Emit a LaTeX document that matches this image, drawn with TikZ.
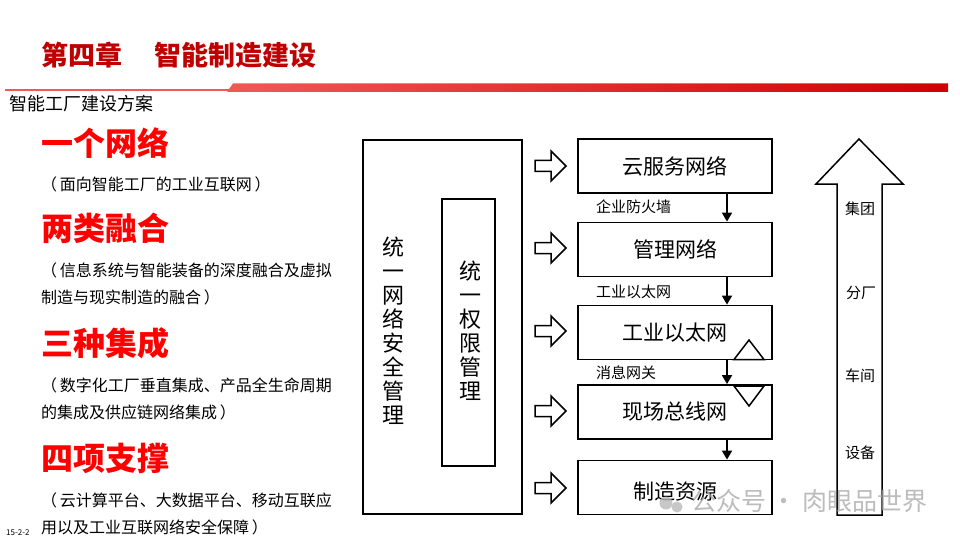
\documentclass[tikz,border=0pt]{standalone}
\usepackage{fontspec}
\setmainfont{Noto Sans CJK SC}
\usetikzlibrary{arrows.meta,shapes.geometric}
\definecolor{titlered}{HTML}{C00000}
\definecolor{brightred}{HTML}{FF0000}
\definecolor{bandL}{HTML}{EE5A55}
\definecolor{bandR}{HTML}{D20000}
\tikzset{
  netbox/.style={draw=black,line width=1.8pt,minimum width=194pt,minimum height=54pt,inner sep=0pt,font=\fontsize{21}{23}\selectfont},
  heading/.style={text=brightred,font=\fontsize{32}{34}\selectfont\bfseries,anchor=west,inner sep=0pt},
  desc/.style={font=\fontsize{16}{18}\selectfont,anchor=west,inner sep=0pt},
  small/.style={font=\fontsize{15}{17}\selectfont,inner sep=0pt},
  downarr/.style={line width=1.8pt,-{Triangle[length=9pt,width=10pt]}},
  hollow/.style={draw=black,line width=1.5pt,fill=white,line join=miter},
  vtext/.style={align=center,inner sep=0pt,font=\fontsize{22}{24}\selectfont},
}
\begin{document}
\begin{tikzpicture}[x=1pt,y=-1pt]
\useasboundingbox (0,0) rectangle (960,540);
\fill[white] (0,0) rectangle (960,540);
% title
\node[text=titlered,font=\fontsize{27}{29}\selectfont\bfseries,anchor=west,inner sep=0pt] (t1) at (41,55) {第四章};
\node[text=titlered,font=\fontsize{27}{29}\selectfont\bfseries,anchor=west,inner sep=0pt] (t2) at (154,55) {智能制造建设};
% red rule
\fill[bandL] (5,89.5) rectangle (232,91.5);
\shade[left color=bandL,right color=bandR] (227,92) -- (233,83.5) -- (948,83.5) -- (948,92) -- cycle;
\node[font=\fontsize{18}{20}\selectfont,anchor=west,inner sep=0pt] (sub) at (9,104) {智能工厂建设方案};
% left texts
\node[heading] (h1) at (41,143) {一个网络};
\node[desc] (d1) at (41,184) {（\,面向智能工厂的工业互联网\,）};
\node[heading] (h2) at (41,228) {两类融合};
\node[desc] (d2a) at (41,270) {（\,信息系统与智能装备的深度融合及虚拟};
\node[desc] (d2b) at (41,297) {制造与现实制造的融合\,）};
\node[heading] (h3) at (41,343) {三种集成};
\node[desc] (d3a) at (41,385) {（\,数字化工厂垂直集成、产品全生命周期};
\node[desc] (d3b) at (41,412) {的集成及供应链网络集成\,）};
\node[heading] (h4) at (41,458) {四项支撑};
\node[desc] (d4a) at (41,500) {（\,云计算平台、大数据平台、移动互联应};
\node[desc] (d4b) at (41,527) {用以及工业互联网络安全保障\,）};
\node[font=\fontsize{8}{9}\selectfont,anchor=west,inner sep=0pt] (pg) at (6,533) {15-2-2};
% security boxes
\draw[line width=1.8pt] (363,140) rectangle (522,514);
\node[draw=black,line width=1.8pt,minimum width=53pt,minimum height=267pt,inner sep=0pt] (inner) at (468.5,332.5) {};
\node[vtext] (vt1) at (393,331) {统\\一\\网\\络\\安\\全\\管\\理};
\node[vtext] (vt2) at (470,331) {统\\一\\权\\限\\管\\理};
% hollow right arrows
\foreach \yy in {166,248,331,411,488}{
  \draw[hollow] (535,\yy-5.5) -- (551,\yy-5.5) -- (551,\yy-15) -- (566,\yy) -- (551,\yy+15) -- (551,\yy+5.5) -- (535,\yy+5.5) -- cycle;
}
% network boxes
\node[netbox] (b1) at (675,166) {云服务网络};
\node[netbox] (b2) at (675,249.5) {管理网络};
\node[netbox] (b3) at (675,332.5) {工业以太网};
\node[netbox] (b4) at (675,412) {现场总线网};
\node[netbox] (b5) at (675,487.5) {};
\node[font=\fontsize{21}{23}\selectfont,inner sep=0pt] (b5t) at (675,492) {制造资源};
\draw[downarr] ([xshift=52pt]b1.south) -- ([xshift=52pt]b2.north);
\draw[downarr] ([xshift=52pt]b2.south) -- ([xshift=52pt]b3.north);
\draw[downarr] ([xshift=52pt]b3.south) -- ([xshift=52pt]b4.north);
\draw[downarr] ([xshift=52pt]b4.south) -- ([xshift=52pt]b5.north);
\node[small,anchor=west] (l1) at (596,207) {企业防火墙};
\node[small,anchor=west] (l2) at (596,292) {工业以太网};
\node[small,anchor=west] (l3) at (596,373) {消息网关};
% triangles
\draw[line width=1.5pt,fill=white,line join=miter] (734,359.5) -- (749,340) -- (764,359.5) -- cycle;
\draw[line width=1.5pt,fill=white,line join=miter] (734,386) -- (749,406) -- (764,386) -- cycle;
% big up arrow
\draw[line width=1.5pt,line join=miter] (837,515) -- (837,184) -- (816,184) -- (859,139) -- (903,184) -- (882,184) -- (882,515) -- cycle;
\node[small] (g1) at (860,209) {集团};
\node[small] (g2) at (861,293) {分厂};
\node[small] (g3) at (860,376) {车间};
\node[small] (g4) at (860,453) {设备};
% watermark
\fill[gray!55,opacity=0.8] (666,503) circle (6.5);
\fill[gray!55,opacity=0.8] (677,507) circle (5.5);
\node[text=gray!70,opacity=0.75,font=\fontsize{25}{27}\selectfont,anchor=west,inner sep=0pt] (wm) at (691,501) {公众号 · 肉眼品世界};
\end{tikzpicture}
\end{document}
